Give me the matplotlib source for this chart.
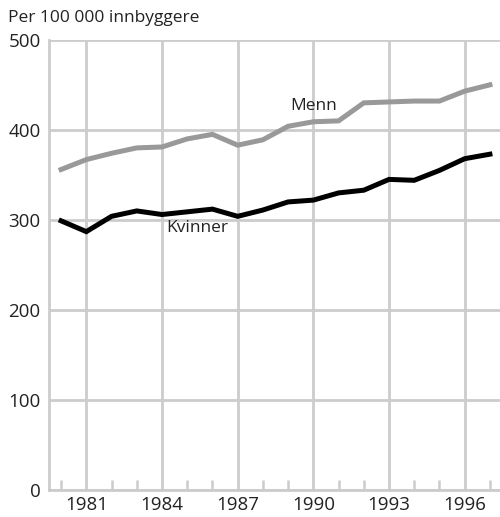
import numpy as np
import matplotlib
matplotlib.use("Agg")
import matplotlib.pyplot as plt
from matplotlib.ticker import MultipleLocator

plt.rcParams["font.family"] = ["Open Sans", "DejaVu Sans"]

years = list(range(1980, 1998))
menn = [356, 367, 374, 380, 381, 390, 395, 383, 389, 404, 409, 410,
        430, 431, 432, 432, 443, 450]
kvinner = [299, 287, 304, 310, 306, 309, 312, 304, 311, 320, 322, 330,
           333, 345, 344, 355, 368, 373]
x_ticks = [1981, 1984, 1987, 1990, 1993, 1996]
y_ticks = [0, 100, 200, 300, 400, 500]

GRID = "#cccccc"

fig = plt.figure(figsize=(5.0, 5.17), dpi=100)
ax = fig.add_axes([0.098, 0.052, 0.902, 0.871])

ax.plot(years, menn, color="#999999", linewidth=3.6, solid_joinstyle="miter", zorder=3)
ax.plot(years, kvinner, color="black", linewidth=3.6, solid_joinstyle="miter", zorder=3)

ax.text(1990.0, 426, "Menn", ha="center", va="center", fontsize=12.5, color="#222222")
ax.text(1985.4, 291, "Kvinner", ha="center", va="center", fontsize=12.5, color="#222222")

ax.set_xlim(1979.52, 1997.4)
ax.set_ylim(0, 500)
ax.set_xticks(x_ticks)
ax.set_yticks(y_ticks)
ax.xaxis.set_minor_locator(MultipleLocator(1))
ax.grid(True, which="major", color=GRID, linewidth=2)
ax.set_axisbelow(True)

for s in ["top", "right"]:
    ax.spines[s].set_visible(False)
for s in ["left", "bottom"]:
    ax.spines[s].set_color(GRID)
    ax.spines[s].set_linewidth(2)

ax.tick_params(axis="both", which="major", length=0, labelsize=13.5,
               labelcolor="#222222")
ax.tick_params(axis="y", pad=6)
ax.tick_params(axis="x", pad=4)
ax.tick_params(axis="x", which="minor", direction="in", length=7,
               width=1.8, color=GRID)

fig.text(0.016, 0.966, "Per 100 000 innbyggere", fontsize=12.5, color="#222222",
         ha="left", va="center")

fig.savefig("out.png")
